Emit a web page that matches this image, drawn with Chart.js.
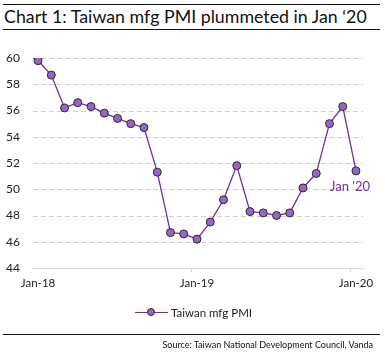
<!DOCTYPE html>
<html>
<head>
<meta charset="utf-8">
<script src="https://cdn.jsdelivr.net/npm/chart.js@4.4.1/dist/chart.umd.min.js"></script>
<style>
  html, body { margin:0; padding:0; background:#fff; }
  body { width:385px; height:356px; position:relative; overflow:hidden; font-family: Lato, "Open Sans", sans-serif; }
  .rule { position:absolute; left:3px; width:377px; height:0; border-top:1.4px solid #111; }
  #title { position:absolute; left:4px; top:5px; font-size:17.8px; color:#111; white-space:nowrap; }
  #src { position:absolute; right:12px; top:339px; font-size:9px; color:#111; white-space:nowrap; }
  #legend { position:absolute; left:135px; top:304px; height:16px; display:flex; align-items:center; font-size:11.5px; color:#222; }
  #legend .sw { position:relative; width:33px; height:16px; margin-right:3px; }
  #legend .sw .ln { position:absolute; left:0; right:0; top:7.5px; border-top:1.3px solid #7030A0; }
  #legend .sw .dot { position:absolute; left:12px; top:4px; width:6px; height:6px; border-radius:50%; background:#9566C8; border:1px solid #2a2a2a; }
  #wrap { position:absolute; left:0; top:0; width:385px; height:356px; }
</style>
</head>
<body>
<div class="rule" style="top:4px"></div>
<div id="title">Chart 1: Taiwan mfg PMI plummeted in Jan ‘20</div>
<div class="rule" style="top:29px"></div>
<div id="wrap"><canvas id="c" width="385" height="356"></canvas></div>
<div id="legend"><div class="sw"><div class="ln"></div><div class="dot"></div></div><span>Taiwan mfg PMI</span></div>
<div class="rule" style="top:334px"></div>
<div id="src">Source: Taiwan National Development Council, Vanda</div>
<script>
// Months (Dec-17 is only the lead-in segment clipped at the left edge)
const months = ['Dec-17','Jan-18','Feb-18','Mar-18','Apr-18','May-18','Jun-18','Jul-18','Aug-18','Sep-18','Oct-18','Nov-18','Dec-18',
                'Jan-19','Feb-19','Mar-19','Apr-19','May-19','Jun-19','Jul-19','Aug-19','Sep-19','Oct-19','Nov-19','Dec-19','Jan-20'];
const pmi = [60.3, 59.8, 58.7, 56.2, 56.6, 56.3, 55.8, 55.4, 55.0, 54.7, 51.3, 46.7, 46.6,
             46.2, 47.5, 49.2, 51.8, 48.3, 48.2, 48.0, 48.2, 50.1, 51.2, 55.0, 56.3, 51.4];
const xTickLabels = ['Jan-18','Jan-19','Jan-20'];
const yTicks = [44, 46, 48, 50, 52, 54, 56, 58, 60];
const seriesName = 'Taiwan mfg PMI';
const annotationText = "Jan '20";

const base = months.indexOf('Jan-18');
const points = pmi.map((v, i) => ({ x: i - base, y: v }));
const labelPos = {};
xTickLabels.forEach(l => { labelPos[months.indexOf(l) - base] = l; });
const tickMarkPos = [months.indexOf('Jan-19') - base - 0.45, months.indexOf('Jan-20') - base - 0.45];

// dashed horizontal gridlines drawn from the y scale's own ticks
const dashedGrid = {
  id: 'dashedGrid',
  beforeDatasetsDraw(chart) {
    const y = chart.scales.y, area = chart.chartArea, ctx = chart.ctx;
    ctx.save();
    ctx.strokeStyle = '#cfcfcf';
    ctx.lineWidth = 1;
    ctx.setLineDash([5, 3]);
    y.ticks.forEach(t => {
      if (t.value === y.min) return;
      const py = Math.round(y.getPixelForValue(t.value)) + 0.5;
      ctx.beginPath();
      ctx.moveTo(area.left, py);
      ctx.lineTo(area.right, py);
      ctx.stroke();
    });
    ctx.restore();
  }
};

const annot = {
  id: 'annot',
  afterDatasetsDraw(chart) {
    const meta = chart.getDatasetMeta(0);
    const el = meta.data[meta.data.length - 1];
    const ctx = chart.ctx;
    ctx.save();
    ctx.font = '13px Lato, "Open Sans", sans-serif';
    ctx.fillStyle = '#7030A0';
    ctx.textAlign = 'center';
    ctx.textBaseline = 'middle';
    ctx.fillText(annotationText, el.x - 6, el.y + 16);
    ctx.restore();
  }
};

new Chart(document.getElementById('c'), {
  type: 'line',
  data: {
    datasets: [{
      label: seriesName,
      data: points,
      borderColor: '#7030A0',
      borderWidth: 1.3,
      backgroundColor: '#9566C8',
      pointBackgroundColor: '#9566C8',
      pointBorderColor: '#2a2a2a',
      pointBorderWidth: 1,
      pointRadius: points.map(p => p.x < 0 ? 0 : 4),
      pointHoverRadius: 4,
      tension: 0,
      clip: 0
    }]
  },
  options: {
    responsive: false,
    animation: false,
    events: [],
    layout: { padding: { top: 58, left: 0, right: 22, bottom: 58 } },
    plugins: { legend: { display: false }, tooltip: { enabled: false } },
    scales: {
      x: {
        type: 'linear',
        min: -0.38,
        max: 24.53,
        afterBuildTicks(axis) {
          const vals = Object.keys(labelPos).map(Number).concat(tickMarkPos).sort((a, b) => a - b);
          axis.ticks = vals.map(v => ({ value: v }));
        },
        afterFit(axis) { axis.height = 30; },
        border: { display: true, color: '#d9d9d9', width: 1 },
        grid: {
          drawOnChartArea: false,
          drawTicks: true,
          tickLength: 4,
          color: ctx => (labelPos[ctx.tick && ctx.tick.value] !== undefined ? 'rgba(0,0,0,0)' : '#d9d9d9')
        },
        ticks: {
          autoSkip: false,
          maxRotation: 0,
          padding: 4,
          color: '#222',
          font: { family: 'Lato, "Open Sans", sans-serif', size: 11.5 },
          callback: v => labelPos[v] !== undefined ? labelPos[v] : ''
        }
      },
      y: {
        min: 44,
        max: 60,
        afterBuildTicks(axis) { axis.ticks = yTicks.map(v => ({ value: v })); },
        afterFit(axis) { axis.width = 33; },
        border: { display: false },
        grid: { display: false, drawTicks: false },
        ticks: {
          padding: 13,
          color: '#222',
          font: { family: 'Lato, "Open Sans", sans-serif', size: 12 }
        }
      }
    }
  },
  plugins: [dashedGrid, annot]
});
</script>
</body>
</html>
